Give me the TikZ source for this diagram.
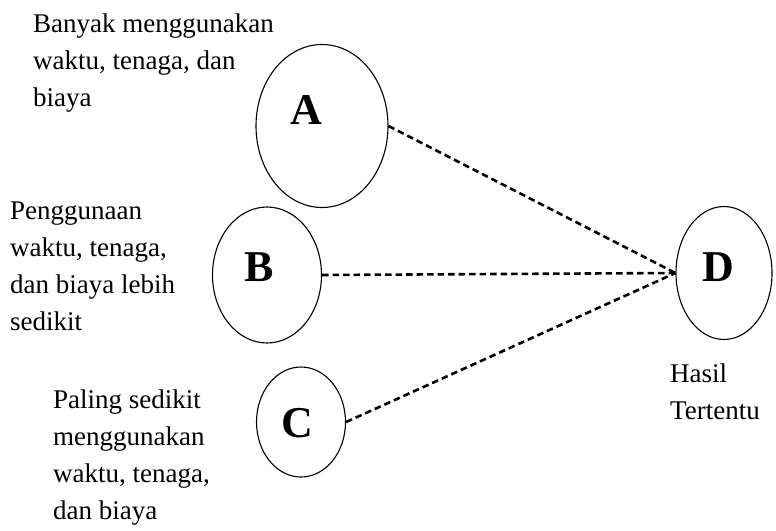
\documentclass[tikz,border=0pt]{standalone}
\usepackage{fontspec}
\setmainfont{Liberation Serif}
\usetikzlibrary{shapes.geometric}
\begin{document}
\begin{tikzpicture}[x=1pt,y=-1pt,
  oval/.style={draw=black, line width=1.1pt, ellipse, inner sep=0pt},
  letter/.style={font=\fontsize{44}{44}\selectfont\bfseries, inner sep=0pt},
  note/.style={font=\fontsize{27}{37}\selectfont, align=left, anchor=north west, inner sep=0pt},
  link/.style={line width=2.6pt, dash pattern=on 6.5pt off 4pt}
]
\useasboundingbox (0,0) rectangle (776,530);
% ellipses
\node[oval, minimum width=132pt, minimum height=163pt] (A) at (322,126) {};
\node[oval, minimum width=109pt, minimum height=136pt] (B) at (267,275) {};
\node[oval, minimum width=89pt, minimum height=110pt] (C) at (301,422) {};
\node[oval, minimum width=96pt, minimum height=133pt] (D) at (724,273) {};
% letters
\node[letter] (la) at (306,110) {A};
\node[letter] (lb) at (259,267) {B};
\node[letter] (lc) at (297,423) {C};
\node[letter] (ld) at (718,267) {D};
% notes
\node[note] (ta) at (33,14) {Banyak menggunakan\\waktu, tenaga, dan\\biaya};
\node[note] (tb) at (10,202) {Penggunaan\\waktu, tenaga,\\dan biaya lebih\\sedikit};
\node[note] (tc) at (53,390) {Paling sedikit\\menggunakan\\waktu, tenaga,\\dan biaya};
\node[note] (td) at (670,364) {Hasil\\Tertentu};
% connectors
\draw[link] (A.east) -- (D.west);
\draw[link] (B.east) -- (D.west);
\draw[link] (C.east) -- (D.west);
\end{tikzpicture}
\end{document}
